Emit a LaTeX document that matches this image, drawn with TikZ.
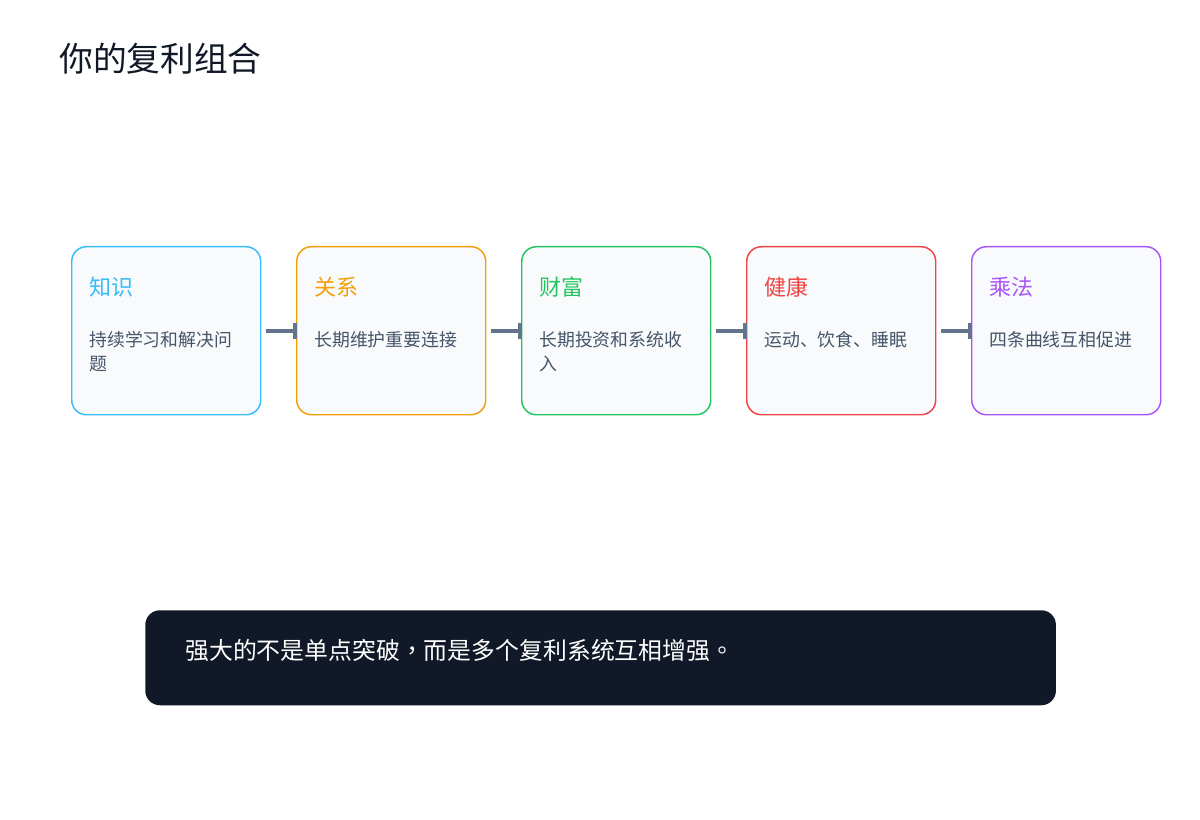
\documentclass[tikz,border=0pt]{standalone}
\usepackage{fontspec}
\setmainfont{Noto Sans CJK SC}
\newfontfamily\tcfont{Noto Sans CJK TC}
\usetikzlibrary{arrows.meta}

\definecolor{inkdark}{HTML}{111827}
\definecolor{descgray}{HTML}{475569}
\definecolor{arrowgray}{HTML}{64748B}
\definecolor{boxfill}{HTML}{F8FAFC}
\definecolor{cknow}{HTML}{38BDF8}
\definecolor{crel}{HTML}{F59E0B}
\definecolor{cweal}{HTML}{22C55E}
\definecolor{cheal}{HTML}{EF4444}
\definecolor{cmul}{HTML}{A855F7}

\tikzset{
  card/.style={draw=#1, fill=boxfill, line width=1.1pt, rounded corners=11pt,
    minimum width=141.75pt, minimum height=126pt, anchor=north west, inner sep=0pt},
  cardtitle/.style={text=#1, font=\fontsize{16.5pt}{20pt}\selectfont, anchor=west, inner sep=0pt},
  carddesc/.style={text=descgray, font=\fontsize{13.4pt}{18pt}\selectfont, anchor=north west,
    align=left, inner sep=0pt},
  link/.style={-{Rectangle[length=2.5pt, width=12pt]}, arrowgray, line width=3pt,
    shorten <=3.75pt, shorten >=-0.5pt}
}

\begin{document}
\begin{tikzpicture}[x=0.75pt, y=-0.75pt]
  \useasboundingbox (0,0) rectangle (1200,820);

  % Titel
  \node[anchor=west, inner sep=0pt, text=inkdark, font=\fontsize{25.3pt}{30pt}\selectfont] (title) at (59,59) {你的复利组合};

  % Karten
  \node[card=cknow] (k1) at (71,246) {};
  \node[card=crel]  (k2) at (296,246) {};
  \node[card=cweal] (k3) at (521,246) {};
  \node[card=cheal] (k4) at (746,246) {};
  \node[card=cmul]  (k5) at (971,246) {};

  % Kartentitel
  \node[cardtitle=cknow] (t1) at (89,287) {知识};
  \node[cardtitle=crel]  (t2) at (314,287) {关系};
  \node[cardtitle=cweal] (t3) at (539,287) {财富};
  \node[cardtitle=cheal] (t4) at (764,287) {健康};
  \node[cardtitle=cmul]  (t5) at (989,287) {乘法};

  % Beschreibungen
  \node[carddesc] (d1) at (89,331) {持续学习和解决问\\题};
  \node[carddesc] (d2) at (314,331) {长期维护重要连接};
  \node[carddesc] (d3) at (539,331) {长期投资和系统收\\入};
  \node[carddesc] (d4) at (764,331) {运动、饮食、睡眠};
  \node[carddesc] (d5) at (989,331) {四条曲线互相促进};

  % Pfeile
  \draw[link] (k1.east) -- (k2.west);
  \draw[link] (k2.east) -- (k3.west);
  \draw[link] (k3.east) -- (k4.west);
  \draw[link] (k4.east) -- (k5.west);

  % Fazit
  \node[fill=inkdark, rounded corners=11pt, minimum width=683pt, minimum height=71.25pt,
    anchor=north west, inner sep=0pt] (sum) at (145,610) {};
  \node[anchor=west, inner sep=0pt, text=white, font=\tcfont\fontsize{17.9pt}{22pt}\selectfont] (sumtext) at (185,650)
    {强大的不是单点突破，而是多个复利系统互相增强。};
\end{tikzpicture}
\end{document}
